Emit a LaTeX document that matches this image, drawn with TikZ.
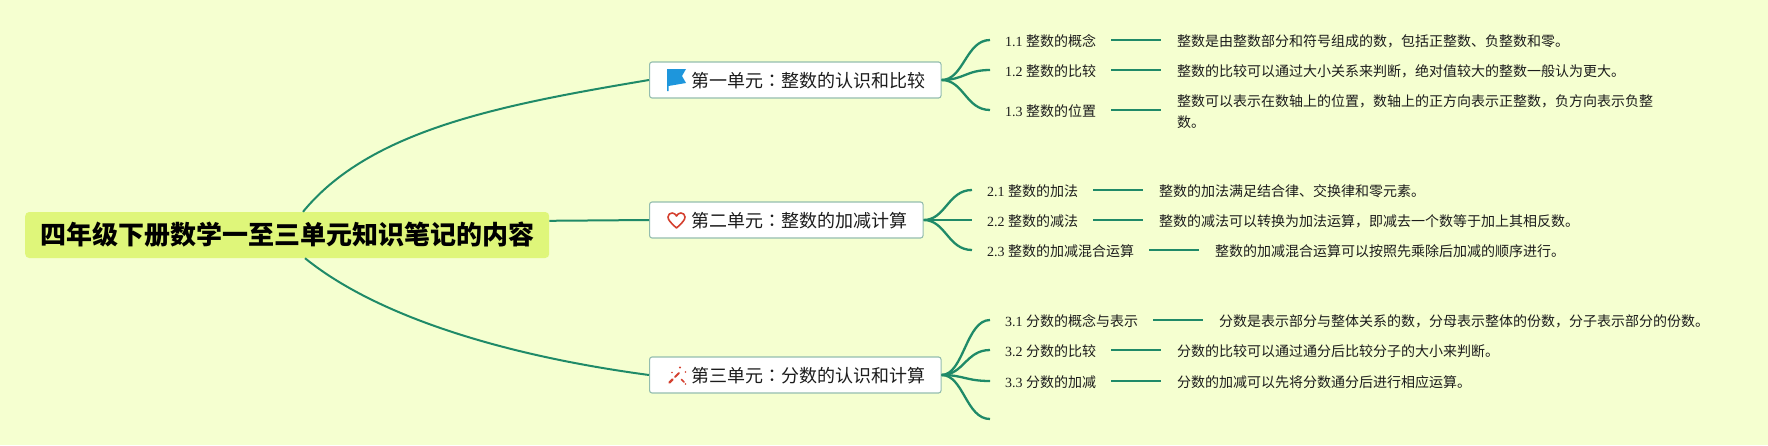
\documentclass[tikz,border=0pt]{standalone}
\usepackage{fontspec}
\setmainfont{Liberation Serif}
\newfontfamily\cjk{Noto Sans CJK SC}
\newfontfamily\cjktc{Noto Sans CJK TC}
\usetikzlibrary{calc,positioning}
\definecolor{bgc}{HTML}{F5FFD0}
\definecolor{rootc}{HTML}{DFF67A}
\definecolor{linec}{HTML}{1F8A68}
\definecolor{boxline}{HTML}{94BDAF}
\definecolor{txt}{HTML}{1C1C1C}
\definecolor{flagc}{HTML}{1E96DC}
\definecolor{redc}{HTML}{D4402F}
\tikzset{
  x=1pt,y=-1pt,
  rootnode/.style={anchor=west,fill=rootc,rounded corners=4pt,inner xsep=15pt,inner ysep=0pt,minimum height=46pt,
    font=\fontsize{26}{30}\selectfont\cjk\bfseries,text=black},
  unitbox/.style={anchor=west,draw=boxline,line width=1.1pt,fill=white,rounded corners=2.5pt,inner xsep=14.5pt,inner ysep=0pt,minimum height=36pt,
    text height=16pt,text depth=0.4pt,font=\fontsize{18}{22}\selectfont\cjk,text=txt},
  labelnode/.style={anchor=west,inner xsep=15pt,inner ysep=0pt,text height=13pt,text depth=1pt,
    font=\fontsize{14}{21}\selectfont,text=txt},
  detailnode/.style={inner xsep=15.5pt,inner ysep=0pt,align=left,yshift=-1pt,
    font=\fontsize{14}{21}\selectfont\cjk,text=txt},
  trunk/.style={draw=linec,line width=2pt},
  twig/.style={draw=linec,line width=2.3pt},
}
\newcommand{\lab}[2]{#1 {\cjk #2}}
\newcommand{\zcolon}{{\cjktc ：}}
\begin{document}
\begin{tikzpicture}
\useasboundingbox (0,0) rectangle (1768,445);
\fill[bgc] (0,0) rectangle (1768,445);

\node[rootnode] (root) at (25,235) {四年级下册数学一至三单元知识笔记的内容};
\node[unitbox] (u1) at (649,80) {\hspace*{27.5pt}第一单元\zcolon 整数的认识和比较\hspace*{1pt}};
\node[unitbox] (u2) at (649,220) {\hspace*{27.5pt}第二单元\zcolon 整数的加减计算\hspace*{1pt}};
\node[unitbox] (u3) at (649,375) {\hspace*{27.5pt}第三单元\zcolon 分数的认识和计算\hspace*{1pt}};

\coordinate (rt) at ($(root.north west)+(278,0)$);
\coordinate (rb) at ($(root.south west)+(280,0)$);
\coordinate (rm) at ($(root.north east)+(0,9)$);
\draw[trunk] (rt) .. controls (370,130) and (500,105) .. (u1.west);
\draw[trunk] (rm) -- (u2.west);
\draw[trunk] (rb) .. controls (375,315) and (500,355) .. (u3.west);

% unit 1
\node[labelnode] (l11) at (990,40) {\lab{1.1}{整数的概念}};
\node[labelnode] (l12) at (990,70) {\lab{1.2}{整数的比较}};
\node[labelnode] (l13) at (990,110) {\lab{1.3}{整数的位置}};
\node[detailnode,right=50pt of l11] (d11) {整数是由整数部分和符号组成的数，包括正整数、负整数和零。};
\node[detailnode,right=50pt of l12] (d12) {整数的比较可以通过大小关系来判断，绝对值较大的整数一般认为更大。};
\node[detailnode,right=50pt of l13,yshift=-1pt] (d13) {整数可以表示在数轴上的位置，数轴上的正方向表示正整数，负方向表示负整\\数。};
% unit 2
\node[labelnode] (l21) at (972,190) {\lab{2.1}{整数的加法}};
\node[labelnode] (l22) at (972,220) {\lab{2.2}{整数的减法}};
\node[labelnode] (l23) at (972,250) {\lab{2.3}{整数的加减混合运算}};
\node[detailnode,right=50pt of l21] (d21) {整数的加法满足结合律、交换律和零元素。};
\node[detailnode,right=50pt of l22] (d22) {整数的减法可以转换为加法运算，即减去一个数等于加上其相反数。};
\node[detailnode,right=50pt of l23] (d23) {整数的加减混合运算可以按照先乘除后加减的顺序进行。};
% unit 3
\node[labelnode] (l31) at (990,320) {\lab{3.1}{分数的概念与表示}};
\node[labelnode] (l32) at (990,350) {\lab{3.2}{分数的比较}};
\node[labelnode] (l33) at (990,381) {\lab{3.3}{分数的加减}};
\coordinate (e34) at (990,419);
\node[detailnode,right=50pt of l31] (d31) {分数是表示部分与整体关系的数，分母表示整体的份数，分子表示部分的份数。};
\node[detailnode,right=50pt of l32] (d32) {分数的比较可以通过通分后比较分子的大小来判断。};
\node[detailnode,right=50pt of l33] (d33) {分数的加减可以先将分数通分后进行相应运算。};

\foreach \u/\c in {u1/l11,u1/l12,u1/l13,u2/l21,u2/l22,u2/l23,u3/l31,u3/l32,u3/l33}
  \draw[twig] (\u.east) .. controls +(22,0) and +(-24,0) .. (\c.west);
\draw[twig] (u3.east) .. controls +(22,0) and +(-24,0) .. (e34);
\foreach \c/\d in {l11/d11,l12/d12,l13/d13,l21/d21,l22/d22,l23/d23,l31/d31,l32/d32,l33/d33}
  \draw[twig] (\c.east) -- (\c.east -| \d.west);

% flag icon
\fill[flagc] (667,69) -- (686,69) -- (682,76) -- (686,83) -- (668.5,86) -- (668.5,91) -- (667,91) -- cycle;
% heart icon
\draw[redc,line width=1.6pt,line join=round]
  (676.5,228) .. controls (671,223) and (668,220) .. (668,217)
  .. controls (668,214.5) and (670,213) .. (672,213)
  .. controls (674,213) and (675.7,214.2) .. (676.5,216)
  .. controls (677.3,214.2) and (679,213) .. (681,213)
  .. controls (683,213) and (685,214.5) .. (685,217)
  .. controls (685,220) and (682,223) .. (676.5,228) -- cycle;
% wand icon
\draw[redc,line width=2.4pt,line cap=round] (669.5,382.5) -- (672.5,379.5);
\draw[redc,line width=2pt,line cap=round] (675,377) -- (679,373);
\fill[redc] (680,367.5) circle (1.1pt);
\fill[redc] (672,372.5) circle (0.9pt);
\fill[redc] (685.5,372) circle (0.9pt);
\draw[redc,line width=1.5pt,line cap=round] (681.5,379.5) -- (684,382);
\fill[redc] (685.5,384) circle (0.9pt);
\end{tikzpicture}
\end{document}
